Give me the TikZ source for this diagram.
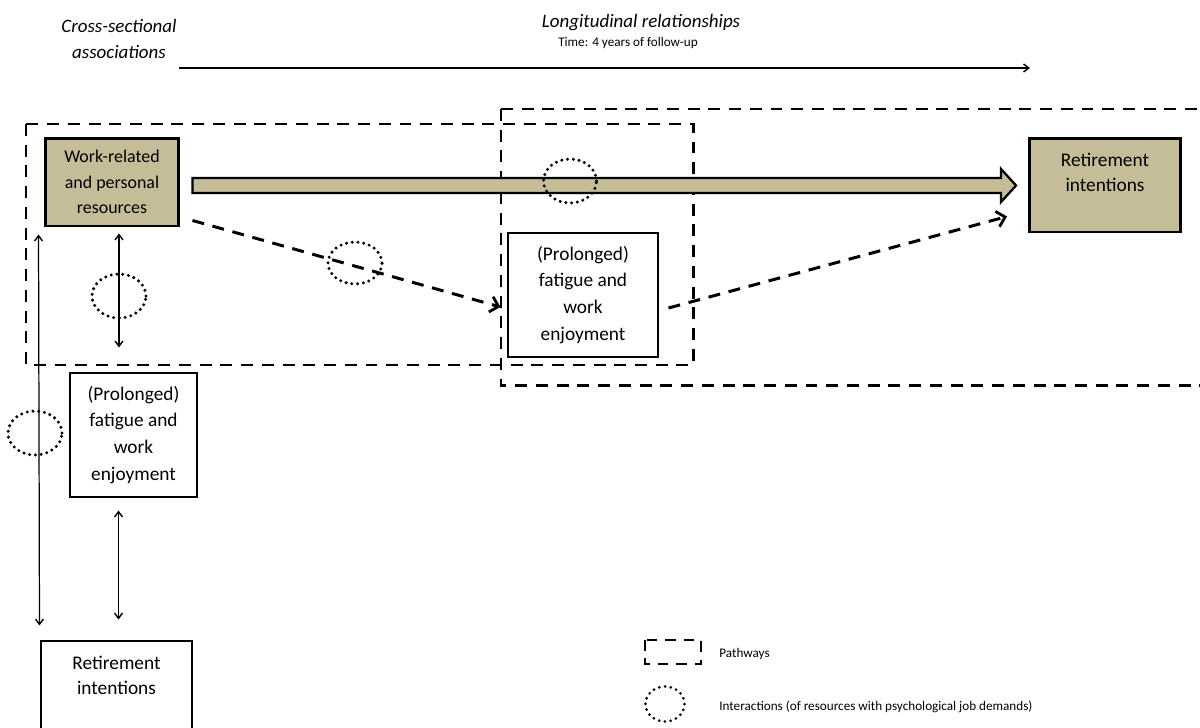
\documentclass[tikz,border=0pt]{standalone}
\usepackage{fontspec}
\setmainfont{Carlito}
\usetikzlibrary{arrows.meta,calc,shapes.geometric}
\definecolor{tanfill}{HTML}{C4BD97}
\begin{document}
\begin{tikzpicture}[x=0.02cm,y=-0.02cm,
  pathbox/.style={line width=1.7pt, dash pattern=on 6.8pt off 5pt},
  legendbox/.style={line width=1.1pt, dash pattern=on 6pt off 4.5pt},
  dasharrow/.style={line width=1.7pt, dash pattern=on 6.8pt off 5pt,
     -{Straight Barb[length=4.5pt,width=9pt,line width=1.6pt]}},
  thinarrow/.style={line width=0.7pt,
     {Straight Barb[length=3pt,width=4.5pt,line width=0.8pt]}-{Straight Barb[length=3pt,width=4.5pt,line width=0.8pt]}},
  timearrow/.style={line width=0.8pt, -{Straight Barb[length=3pt,width=4.5pt,line width=0.8pt]}},
  tanbox/.style={draw, line width=1.7pt, fill=tanfill, align=center, inner sep=0pt},
  whitebox/.style={draw, line width=0.6pt, fill=white, align=center, inner sep=0pt},
  interaction/.style={ellipse, draw, line width=1.9pt, dash pattern=on 0pt off 3.3pt, line cap=round, inner sep=0pt},
  hdr/.style={font=\fontsize{10.8}{14.7}\selectfont\itshape, align=center, inner sep=0pt},
  small/.style={font=\fontsize{7.5}{9}\selectfont, inner sep=0pt}
]
\useasboundingbox (0,0) rectangle (1200,727);

% headings
\node[hdr] (cs) at (119,39) {Cross-sectional\\associations};
\node[hdr] (lg) at (641,23) {Longitudinal relationships};
\node[small] (tm) at (628,43) {Time: 4 years of follow-up};
\coordinate (t0) at (179,68);
\coordinate (t1) at (1030,68);
\draw[timearrow] (t0) -- (t1);

% pathway boxes
\draw[pathbox] (26,124) rectangle (693,365);
\draw[pathbox] (501,109) -- (1215,109);
\draw[pathbox] (501,109) -- (501,385) -- (1215,385);

% nodes
\node[tanbox, minimum width=2.68cm, minimum height=1.76cm, font=\fontsize{10.2}{14.5}\selectfont] (work) at (112,182) {Work-related\\and personal\\resources};
\node[tanbox, minimum width=3.02cm, minimum height=1.88cm, font=\fontsize{11}{14.2}\selectfont] (retR) at (1105,185) {Retirement\\intentions\\\mbox{}};
\node[whitebox, minimum width=3.0cm, minimum height=2.48cm, font=\fontsize{11}{15.3}\selectfont] (fatC) at (583,295) {(Prolonged)\\fatigue and\\work\\enjoyment};
\node[whitebox, minimum width=2.54cm, minimum height=2.48cm, font=\fontsize{11}{15.3}\selectfont] (fatL) at (133.5,435) {(Prolonged)\\fatigue and\\work\\enjoyment};
\node[whitebox, minimum width=3.02cm, minimum height=1.88cm, font=\fontsize{11}{14.2}\selectfont] (retB) at (116.5,688) {Retirement\\intentions\\\mbox{}};

% thick arrow
\coordinate (ta) at ($(work.east)+(12,3.5)$);
\coordinate (tb) at ($(retR.west)+(-12,0.5)$);
\draw[line width=1.3pt, fill=tanfill, line join=miter]
  ($(ta)+(0,-7.5)$) -- ($(tb)+(-15,-7.5)$) -- ($(tb)+(-15,-16.5)$) -- (tb)
  -- ($(tb)+(-15,16.5)$) -- ($(tb)+(-15,7.5)$) -- ($(ta)+(0,7.5)$) -- cycle;

% dashed arrows
\draw[dasharrow] ($(work.south east)+(12,-7)$) -- ($(fatC.west)+(-7,12)$);
\draw[dasharrow] ($(fatC.east)+(10,13)$) -- ($(retR.south west)+(-21,-17)$);

% thin double arrows
\coordinate (a1) at ($(work.south west)+(-5,7)$);
\coordinate (a2) at ($(retB.north west)+(-1,-15)$);
\draw[thinarrow] (a1) -- (a2);
\coordinate (b1) at ($(work.south)+(7,6)$);
\coordinate (b2) at ($(work.south)+(7,120)$);
\draw[thinarrow] (b1) -- (b2);
\coordinate (c1) at ($(fatL.south)+(-15,13)$);
\coordinate (c2) at ($(fatL.south)+(-15,122)$);
\draw[thinarrow] (c1) -- (c2);

% interactions
\node[interaction, minimum width=1.06cm, minimum height=0.88cm] (e1) at (570,181) {};
\node[interaction, minimum width=1.08cm, minimum height=0.84cm] (e2) at (355,263) {};
\node[interaction, minimum width=1.08cm, minimum height=0.88cm] (e3) at (119,296) {};
\node[interaction, minimum width=1.08cm, minimum height=0.88cm] (e4) at (35,433) {};

% legend
\draw[legendbox] (645,640) rectangle (701,664);
\node[small, anchor=west] (lp) at (719,654) {Pathways};
\node[interaction, line width=1.7pt, minimum width=0.78cm, minimum height=0.70cm] (e5) at (665,704) {};
\node[small, anchor=west] (li) at (719,707) {Interactions (of resources with psychological job demands)};
\end{tikzpicture}
\end{document}
